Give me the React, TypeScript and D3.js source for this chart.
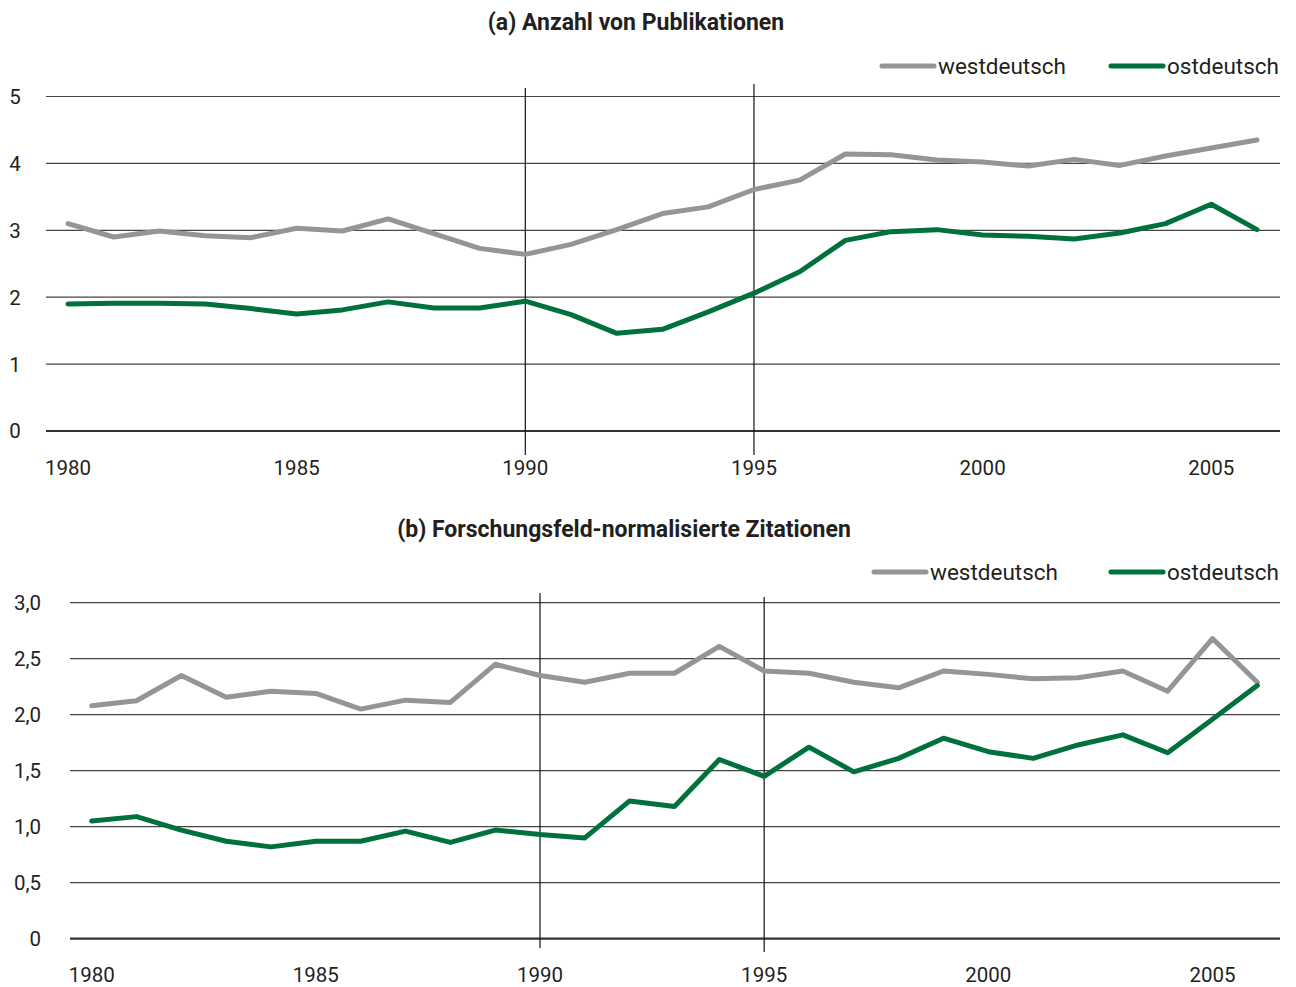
import React, { useEffect, useRef } from "react";
import * as d3 from "d3";

const years = [
  1980, 1981, 1982, 1983, 1984, 1985, 1986, 1987, 1988, 1989, 1990, 1991, 1992,
  1993, 1994, 1995, 1996, 1997, 1998, 1999, 2000, 2001, 2002, 2003, 2004, 2005, 2006,
];
const tickYears = [1980, 1985, 1990, 1995, 2000, 2005];
const markerYears = [1990, 1995];
const seriesNames = ["westdeutsch", "ostdeutsch"];

// (a) Anzahl von Publikationen
const pubWest = [
  3.1, 2.9, 2.99, 2.92, 2.89, 3.03, 2.99, 3.17, 2.95, 2.73, 2.64, 2.79, 3.01,
  3.25, 3.35, 3.61, 3.75, 4.14, 4.13, 4.05, 4.02, 3.96, 4.06, 3.97, 4.11, 4.23, 4.35,
];
const pubEast = [
  1.9, 1.91, 1.91, 1.9, 1.83, 1.75, 1.81, 1.93, 1.84, 1.84, 1.94, 1.74, 1.46,
  1.52, 1.78, 2.06, 2.38, 2.85, 2.98, 3.01, 2.93, 2.91, 2.87, 2.96, 3.1, 3.39, 3.01,
];
const pubTicks = [0, 1, 2, 3, 4, 5];

// (b) Forschungsfeld-normalisierte Zitationen
const citWest = [
  2.08, 2.125, 2.35, 2.155, 2.21, 2.19, 2.05, 2.13, 2.11, 2.45, 2.35, 2.29, 2.37,
  2.37, 2.61, 2.39, 2.37, 2.29, 2.24, 2.39, 2.36, 2.32, 2.33, 2.39, 2.21, 2.68, 2.29,
];
const citEast = [
  1.05, 1.09, 0.97, 0.87, 0.82, 0.87, 0.87, 0.96, 0.86, 0.97, 0.93, 0.9, 1.23,
  1.18, 1.6, 1.45, 1.71, 1.49, 1.61, 1.79, 1.67, 1.61, 1.73, 1.82, 1.66, 1.96, 2.26,
];
const citTicks = [0, 0.5, 1, 1.5, 2, 2.5, 3];

const GREY = "#939598";
const GREEN = "#00703c";
const TEXT = "#231f20";
const FONT = "Roboto, 'Open Sans', sans-serif";
const TEXT_DY = 2; // Roboto sits a bit high with baseline middle

interface Panel {
  title: string;
  titleX: number;
  titleY: number;
  west: number[];
  east: number[];
  ticks: number[];
  fmt: (v: number) => string;
  xRange: [number, number];
  yRange: [number, number];
  gridX: [number, number];
  labelX: number;
  labelAnchor: string;
  yearLabelY: number;
  markerTop: number[];
  markerBottom: number[];
  legendY: number;
  legendWestX: number;
  legendEastX: number;
}

const deFmt = (v: number) => (v === 0 ? "0" : d3.format(".1f")(v).replace(".", ","));

const panels: Panel[] = [
  {
    title: "(a) Anzahl von Publikationen",
    titleX: 636,
    titleY: 22,
    west: pubWest,
    east: pubEast,
    ticks: pubTicks,
    fmt: (v) => String(v),
    xRange: [68, 1257],
    yRange: [431, 96.5],
    gridX: [46, 1280],
    labelX: 15,
    labelAnchor: "middle",
    yearLabelY: 468,
    markerTop: [88, 84],
    markerBottom: [455, 455],
    legendY: 66,
    legendWestX: 882,
    legendEastX: 1111,
  },
  {
    title: "(b) Forschungsfeld-normalisierte Zitationen",
    titleX: 624,
    titleY: 529,
    west: citWest,
    east: citEast,
    ticks: citTicks,
    fmt: deFmt,
    xRange: [91.7, 1257.3],
    yRange: [938.7, 602.7],
    gridX: [70, 1280],
    labelX: 41,
    labelAnchor: "end",
    yearLabelY: 975,
    markerTop: [593, 597],
    markerBottom: [948, 952],
    legendY: 572,
    legendWestX: 874,
    legendEastX: 1111,
  },
];

const App: React.FC = () => {
  const svgRef = useRef<SVGSVGElement>(null);

  useEffect(() => {
    if (!svgRef.current) return;
    const svg = d3.select(svgRef.current);
    svg.selectAll("*").remove();

    panels.forEach((p) => {
      const g = svg.append("g").attr("font-family", FONT).attr("fill", TEXT);

      const x = d3.scaleLinear().domain([1980, 2006]).range(p.xRange);
      const y = d3
        .scaleLinear()
        .domain([0, p.ticks[p.ticks.length - 1]])
        .range(p.yRange);

      // title
      g.append("text")
        .attr("x", p.titleX)
        .attr("y", p.titleY + TEXT_DY)
        .attr("text-anchor", "middle")
        .attr("dominant-baseline", "middle")
        .attr("font-size", 23)
        .attr("font-weight", 700)
        .text(p.title);

      // gridlines + y labels
      p.ticks.forEach((t) => {
        g.append("line")
          .attr("x1", p.gridX[0])
          .attr("x2", p.gridX[1])
          .attr("y1", y(t))
          .attr("y2", y(t))
          .attr("stroke", t === 0 ? "#333" : "#444")
          .attr("stroke-width", t === 0 ? 2.2 : 1.2);
        g.append("text")
          .attr("x", p.labelX)
          .attr("y", y(t) + TEXT_DY)
          .attr("text-anchor", p.labelAnchor)
          .attr("dominant-baseline", "middle")
          .attr("font-size", 20.5)
          .text(p.fmt(t));
      });

      // year labels
      tickYears.forEach((yr) => {
        g.append("text")
          .attr("x", x(yr))
          .attr("y", p.yearLabelY + TEXT_DY)
          .attr("text-anchor", "middle")
          .attr("dominant-baseline", "middle")
          .attr("font-size", 20.5)
          .text(yr);
      });

      // reunification markers
      markerYears.forEach((yr, i) => {
        g.append("line")
          .attr("x1", x(yr))
          .attr("x2", x(yr))
          .attr("y1", p.markerTop[i])
          .attr("y2", p.markerBottom[i])
          .attr("stroke", "#111")
          .attr("stroke-width", 1.2);
      });

      const line = d3
        .line<number>()
        .x((_, i) => x(years[i]))
        .y((d) => y(d));

      [
        { data: p.west, color: GREY },
        { data: p.east, color: GREEN },
      ].forEach(({ data, color }) => {
        g.append("path")
          .datum(data)
          .attr("d", line)
          .attr("fill", "none")
          .attr("stroke", color)
          .attr("stroke-width", 5)
          .attr("stroke-linecap", "round")
          .attr("stroke-linejoin", "round");
      });

      // legend
      [
        { name: seriesNames[0], color: GREY, lx: p.legendWestX },
        { name: seriesNames[1], color: GREEN, lx: p.legendEastX },
      ].forEach(({ name, color, lx }) => {
        g.append("line")
          .attr("x1", lx)
          .attr("x2", lx + 52)
          .attr("y1", p.legendY)
          .attr("y2", p.legendY)
          .attr("stroke", color)
          .attr("stroke-width", 5)
          .attr("stroke-linecap", "round");
        g.append("text")
          .attr("x", lx + 56)
          .attr("y", p.legendY + TEXT_DY)
          .attr("dominant-baseline", "middle")
          .attr("font-size", 22.5)
          .text(name);
      });
    });
  }, []);

  return (
    <svg
      ref={svgRef}
      width={1296}
      height={987}
      style={{ position: "absolute", left: 0, top: 0, background: "#fff" }}
    ></svg>
  );
};

export default App;
